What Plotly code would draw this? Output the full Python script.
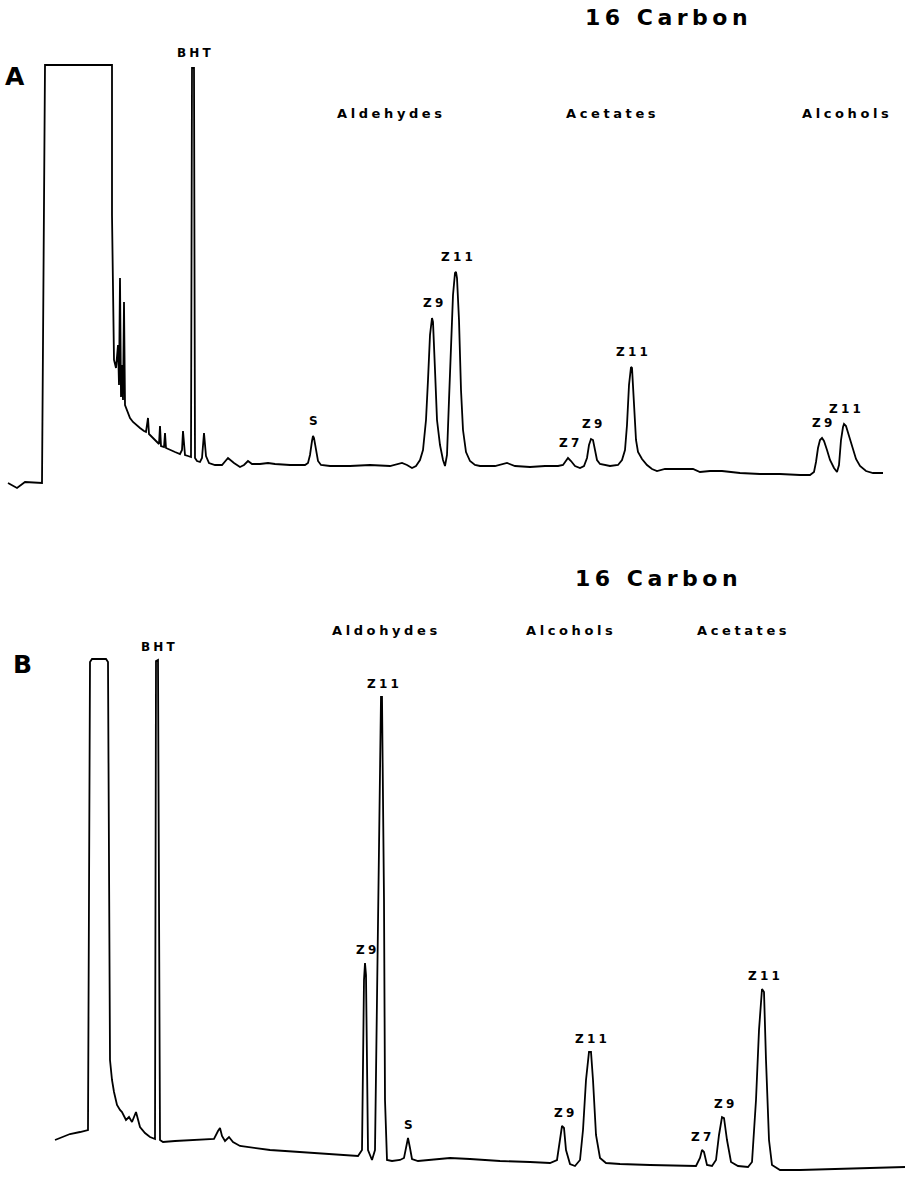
import plotly.graph_objects as go

# ---------------- Panel A trace (retention units, detector response) ----------------
ret_a = [8, 17, 25, 42, 45, 112, 112, 113, 114, 116, 118, 119, 120, 121, 122, 123, 124, 125, 127,
         130, 133, 136, 140, 144, 146, 148, 149, 152, 156, 159, 160, 161, 164, 165, 166, 170, 175,
         180, 182, 183, 185, 188, 191, 192, 194, 195, 197, 200, 202, 204, 206, 209, 215, 222, 228,
         234, 240, 244, 248, 252, 260, 268, 275, 290, 305, 308, 310, 312, 313, 314, 316, 318, 321,
         330, 350, 370, 390, 402, 407, 412, 416, 420, 423, 426, 428, 430, 432, 433, 435, 437, 440,
         443, 445, 447, 449, 451, 453, 455, 456, 457, 459, 461, 463, 466, 470, 475, 480, 495, 507,
         515, 530, 545, 558, 563, 566, 568, 571, 575, 580, 584, 587, 589, 591, 593, 595, 597, 600,
         610, 618, 622, 625, 627, 629, 631, 632, 634, 636, 638, 642, 647, 652, 657, 665, 680, 693,
         700, 710, 722, 740, 760, 780, 800, 810, 814, 816, 818, 820, 822, 824, 827, 830, 834, 837,
         839, 841, 843, 844, 846, 849, 852, 856, 860, 866, 873, 883]
resp_a = [-3, -8, -2, -3, 415, 415, 265, 190, 120, 112, 135, 95, 202, 83, 115, 80, 178, 75, 70,
          62, 58, 55, 52, 49, 48, 62, 46, 43, 39, 36, 54, 34, 33, 47, 32, 30, 28,
          26, 30, 49, 25, 24, 23, 412, 412, 22, 19, 18, 22, 47, 24, 17, 15, 15, 22,
          17, 13, 15, 19, 16, 16, 17, 16, 15, 15, 17, 25, 39, 44, 42, 28, 19, 15,
          14, 14, 15, 14, 17, 15, 12, 14, 20, 30, 60, 100, 145, 162, 158, 110, 60, 35,
          20, 14, 25, 80, 140, 185, 207, 208, 202, 160, 90, 50, 28, 19, 15, 14, 14, 17,
          14, 13, 14, 14, 15, 20, 22, 19, 14, 12, 14, 22, 35, 41, 40, 30, 20, 16,
          14, 15, 20, 30, 55, 95, 113, 112, 80, 40, 28, 21, 15, 11, 9, 11, 11, 11,
          8, 9, 9, 7, 6, 6, 5, 5, 8, 18, 32, 40, 42, 39, 30, 20, 12, 8,
          15, 40, 53, 56, 54, 44, 32, 21, 14, 9, 7, 7]

# ---------------- Panel B trace ----------------
ret_b = [55, 62, 70, 80, 88, 90, 92, 106, 108, 110, 112, 114, 117, 120, 122, 126, 129, 132, 136,
         140, 145, 150, 155, 156, 158, 160, 163, 175, 190, 205, 214, 218, 220, 222, 225, 229, 233,
         240, 255, 270, 285, 300, 320, 340, 358, 362, 364, 365, 366, 368, 372, 375, 377, 379, 381,
         382, 384, 385, 387, 392, 400, 404, 406, 408, 410, 412, 418, 430, 450, 470, 500, 530, 550,
         557, 560, 562, 564, 566, 570, 575, 580, 583, 586, 589, 591, 593, 596, 600, 606, 620, 650,
         680, 696, 700, 702, 704, 707, 712, 716, 719, 722, 724, 727, 731, 738, 748, 752, 756, 759,
         762, 764, 766, 769, 772, 780, 800, 830, 860, 905]
resp_b = [30, 33, 36, 38, 40, 508, 511, 511, 508, 110, 90, 78, 65, 60, 58, 50, 53, 48, 58,
          43, 37, 33, 31, 509, 510, 30, 28, 29, 30, 31, 31, 39, 42, 34, 29, 33, 28,
          24, 22, 20, 19, 18, 16, 15, 14, 20, 190, 207, 195, 20, 10, 20, 170, 370, 473,
          473, 270, 70, 10, 9, 10, 12, 22, 32, 22, 11, 9, 10, 12, 11, 9, 8, 7,
          10, 30, 44, 42, 20, 6, 4, 10, 40, 90, 118, 118, 90, 35, 12, 7, 6, 5,
          4, 4, 12, 20, 18, 5, 4, 10, 35, 53, 52, 30, 8, 4, 3, 8, 70, 140,
          181, 178, 110, 30, 5, 0, 0, 1, 2, 3]

# ---------------- Text ----------------
title_text = "16 Carbon"
groups_a = ["Aldehydes", "Acetates", "Alcohols"]
groups_b = ["Aldohydes", "Alcohols", "Acetates"]
peaks_a = ["BHT", "S", "Z9", "Z11", "Z7", "Z9", "Z11", "Z9", "Z11"]
peak_ret_a = [193, 313, 432, 456, 568, 591, 631, 821, 844]
peaks_b = ["BHT", "Z9", "Z11", "S", "Z9", "Z11", "Z7", "Z9", "Z11"]
peak_ret_b = [157, 365, 382, 408, 563, 590, 700, 723, 763]

W, H = 911, 1198
fig = go.Figure()
line = dict(color="black", width=1.8)
fig.add_trace(go.Scatter(x=ret_a, y=resp_a, mode="lines", line=line, xaxis="x", yaxis="y",
                         hoverinfo="skip"))
fig.add_trace(go.Scatter(x=ret_b, y=resp_b, mode="lines", line=line, xaxis="x2", yaxis="y2",
                         hoverinfo="skip"))

ax = dict(visible=False, showgrid=False, zeroline=False, fixedrange=True)
fig.update_layout(
    width=W, height=H, margin=dict(l=0, r=0, t=0, b=0),
    paper_bgcolor="white", plot_bgcolor="white", showlegend=False,
    xaxis=dict(ax, range=[0, W], domain=[0, 1], anchor="y"),
    yaxis=dict(ax, range=[-119, 480], domain=[0.5, 1], anchor="x"),
    xaxis2=dict(ax, range=[0, W], domain=[0, 1], anchor="y2"),
    yaxis2=dict(ax, range=[-28, 571], domain=[0, 0.5], anchor="x2"),
)

FONT = "DejaVu Sans"


def spaced(t, ls):
    return f'<span style="letter-spacing:{ls}px">{t}</span>'


def paper_text(t, px, py, size, ls):
    fig.add_annotation(xref="paper", yref="paper", x=px / W, y=1 - py / H, text=spaced(t, ls),
                       showarrow=False, xanchor="center", yanchor="middle",
                       font=dict(family=FONT, size=size, color="black", weight="bold"))


# titles, group headings, panel letters
paper_text(title_text, 668, 17, 22, 4.5)
paper_text(title_text, 658, 578, 22, 4.5)
for t, px in zip(groups_a, [391, 612, 847]):
    paper_text(t, px, 114, 13, 3.6)
for t, px in zip(groups_b, [386, 571, 743]):
    paper_text(t, px, 630, 13, 3.6)
paper_text("A", 15, 77, 25, 0)
paper_text("B", 22, 664, 25, 0)


def apex(rets, resps, r):
    return max(v for x, v in zip(rets, resps) if abs(x - r) <= 4)


for t, r in zip(peaks_a, peak_ret_a):
    fig.add_annotation(xref="x", yref="y", x=r, y=apex(ret_a, resp_a, r), text=spaced(t, 3.2),
                       showarrow=False, yanchor="bottom", yshift=6, xshift=2,
                       font=dict(family=FONT, size=12, color="black", weight="bold"))
for t, r in zip(peaks_b, peak_ret_b):
    fig.add_annotation(xref="x2", yref="y2", x=r, y=apex(ret_b, resp_b, r), text=spaced(t, 3.2),
                       showarrow=False, yanchor="bottom", yshift=4, xshift=2,
                       font=dict(family=FONT, size=12, color="black", weight="bold"))

fig.write_html("out.html")
